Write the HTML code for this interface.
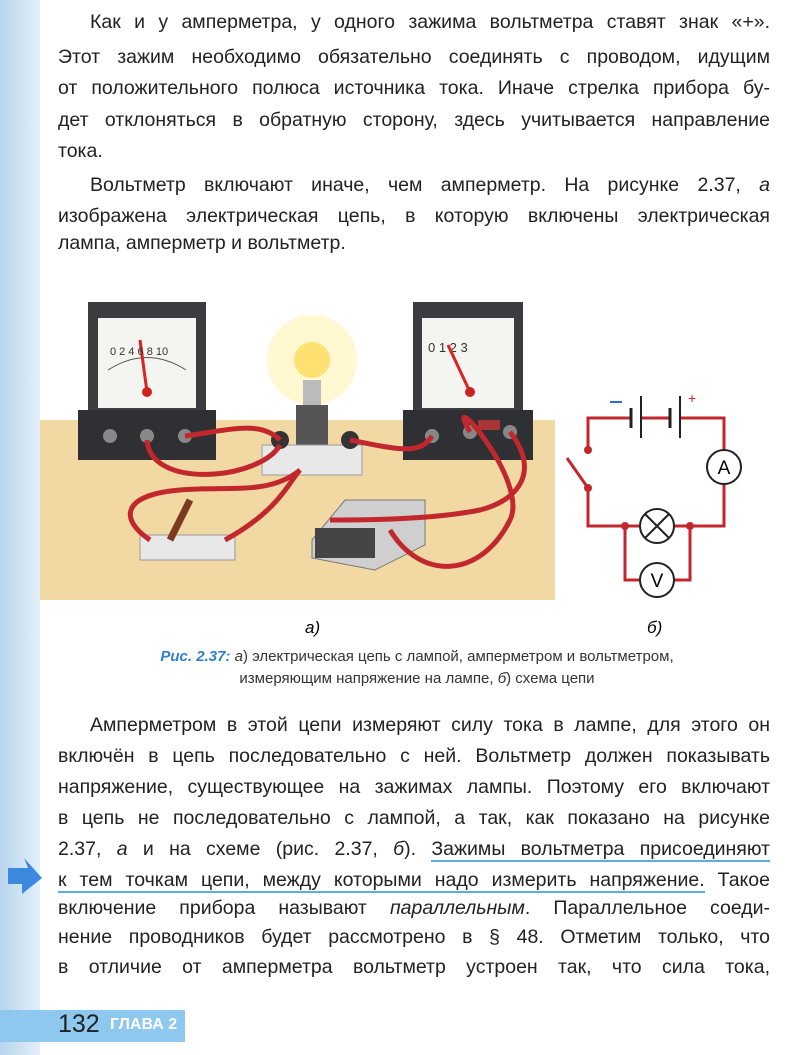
<!DOCTYPE html>
<html><head><meta charset="utf-8"><style>
body{margin:0;width:794px;height:1055px;position:relative;background:#fff;overflow:hidden;font-family:"Liberation Sans","DejaVu Sans",sans-serif;color:#222}
.strip{position:absolute;left:0;top:0;width:40px;height:1055px;background:linear-gradient(90deg,#b8d4ee,#e4effa)}
.l{position:absolute;left:58px;width:712px;font-size:19.5px;line-height:24px;text-align:justify;text-align-last:justify;white-space:nowrap}
.l.nj{text-align-last:left}
.in{left:90px;width:680px}
.u{border-bottom:2px solid #5aaee0}
.cap{position:absolute;font-size:15px;color:#333;width:794px;left:20px;text-align:center}
</style></head><body>
<div class="strip"></div>
<div class="l in" style="top:10px">Как и у амперметра, у одного зажима вольтметра ставят знак «+».</div>
<div class="l" style="top:45px">Этот зажим необходимо обязательно соединять с проводом, идущим</div>
<div class="l" style="top:76px">от положительного полюса источника тока. Иначе стрелка прибора бу-</div>
<div class="l" style="top:108px">дет отклоняться в обратную сторону, здесь учитывается направление</div>
<div class="l nj" style="top:139px">тока.</div>
<div class="l in" style="top:173px">Вольтметр включают иначе, чем амперметр. На рисунке 2.37, <i>а</i></div>
<div class="l" style="top:204px">изображена электрическая цепь, в которую включены электрическая</div>
<div class="l nj" style="top:231px">лампа, амперметр и вольтметр.</div>

<svg style="position:absolute;left:0;top:0" width="794" height="645">
<rect x="40" y="420" width="515" height="180" fill="#f2d9a4"/>
<rect x="88" y="302" width="118" height="115" fill="#3a3c3f"/>
<rect x="78" y="410" width="138" height="50" fill="#2e3033"/>
<rect x="98" y="318" width="98" height="90" fill="#f4f4f0"/>
<path d="M108 370 Q147 345 186 370" stroke="#555" fill="none"/>
<line x1="147" y1="392" x2="140" y2="340" stroke="#d22" stroke-width="3"/>
<circle cx="147" cy="392" r="5" fill="#c22"/>
<text x="110" y="355" font-size="11" fill="#333">0 2 4 6 8 10</text>
<circle cx="110" cy="436" r="7" fill="#888"/><circle cx="147" cy="436" r="7" fill="#888"/><circle cx="185" cy="436" r="7" fill="#888"/>
<rect x="413" y="302" width="110" height="115" fill="#3a3c3f"/>
<rect x="403" y="410" width="130" height="50" fill="#2e3033"/>
<rect x="422" y="318" width="92" height="90" fill="#f4f4f0"/>
<text x="428" y="352" font-size="13" fill="#333">0  1  2  3</text>
<line x1="470" y1="392" x2="448" y2="345" stroke="#d22" stroke-width="3"/>
<circle cx="470" cy="392" r="5" fill="#c22"/>
<circle cx="432" cy="436" r="7" fill="#888"/><circle cx="470" cy="432" r="7" fill="#888"/><circle cx="510" cy="432" r="7" fill="#888"/>
<rect x="478" y="420" width="22" height="10" fill="#a33"/>
<circle cx="312" cy="360" r="45" fill="#fff4b0" opacity="0.6"/>
<circle cx="312" cy="360" r="18" fill="#ffe070"/>
<rect x="303" y="380" width="18" height="25" fill="#bbb"/>
<rect x="296" y="405" width="32" height="40" fill="#555"/>
<rect x="262" y="445" width="100" height="30" fill="#e8e8e8" stroke="#999"/>
<circle cx="280" cy="440" r="9" fill="#333"/><circle cx="350" cy="440" r="9" fill="#333"/>
<rect x="140" y="535" width="95" height="25" fill="#e8e8e8" stroke="#999"/>
<line x1="170" y1="540" x2="190" y2="500" stroke="#7a3b20" stroke-width="7"/>
<polygon points="312,540 345,500 425,500 425,545 375,570 312,558" fill="#cfcfcf" stroke="#777"/>
<rect x="315" y="528" width="60" height="30" fill="#444"/>
<g stroke="#c1272d" stroke-width="5" fill="none">
<path d="M147 440 C150 490 260 480 280 445"/>
<path d="M185 436 C230 430 260 420 280 440"/>
<path d="M350 440 C400 450 420 455 432 436"/>
<path d="M470 432 C440 380 530 480 510 520 C480 580 420 580 390 530"/>
<path d="M510 432 C540 470 520 500 480 510 C430 520 360 520 330 520"/>
<path d="M225 540 C280 510 290 480 300 470"/>
<path d="M150 540 C120 520 120 495 180 490 C230 486 270 495 300 470"/>
</g>
<g stroke="#c1272d" stroke-width="3" fill="none">
<path d="M631 418 H588 V450"/><path d="M588 488 V526 H640"/><path d="M641 418 H670"/><path d="M680 418 H724 V450"/><path d="M724 484 V526 H674"/>
<path d="M625 526 V580 H640"/><path d="M690 526 V580 H674"/>
<line x1="567" y1="458" x2="588" y2="488"/>
</g>
<g fill="#c1272d"><circle cx="588" cy="450" r="4"/><circle cx="588" cy="488" r="4"/><circle cx="625" cy="526" r="4"/><circle cx="690" cy="526" r="4"/></g>
<g stroke="#222" stroke-width="2"><line x1="631" y1="408" x2="631" y2="428" stroke-width="3"/><line x1="641" y1="396" x2="641" y2="438"/><line x1="670" y1="408" x2="670" y2="428" stroke-width="3"/><line x1="680" y1="396" x2="680" y2="438"/></g>
<line x1="610" y1="402" x2="622" y2="402" stroke="#2a6fc9" stroke-width="2"/>
<text x="688" y="403" fill="#d22" font-size="14">+</text>
<g fill="#fff" stroke="#222" stroke-width="2"><circle cx="724" cy="467" r="17"/><circle cx="657" cy="526" r="17"/><circle cx="657" cy="580" r="17"/></g>
<path d="M645 514 L669 538 M669 514 L645 538" stroke="#222" stroke-width="2"/>
<text x="724" y="474" font-size="19" text-anchor="middle">A</text>
<text x="657" y="587" font-size="19" text-anchor="middle">V</text>
<text x="305" y="633" font-size="17" font-style="italic">а)</text>
<text x="647" y="633" font-size="17" font-style="italic">б)</text>
</svg>
<div class="cap" style="top:648px"><b style="color:#2f7fd0;font-style:italic">Рис. 2.37:</b> <i>а</i>) электрическая цепь с лампой, амперметром и вольтметром,</div>
<div class="cap" style="top:670px">измеряющим напряжение на лампе, <i>б</i>) схема цепи</div>

<div class="l in" style="top:713px">Амперметром в этой цепи измеряют силу тока в лампе, для этого он</div>
<div class="l" style="top:744px">включён в цепь последовательно с ней. Вольтметр должен показывать</div>
<div class="l" style="top:775px">напряжение, существующее на зажимах лампы. Поэтому его включают</div>
<div class="l" style="top:806px">в цепь не последовательно с лампой, а так, как показано на рисунке</div>
<div class="l" style="top:837px">2.37, <i>а</i> и на схеме (рис. 2.37, <i>б</i>). <span class="u">Зажимы вольтметра присоединяют</span></div>
<div class="l" style="top:868px"><span class="u">к тем точкам цепи, между которыми надо измерить напряжение.</span> Такое</div>
<div class="l" style="top:896px">включение прибора называют <i>параллельным</i>. Параллельное соеди-</div>
<div class="l" style="top:925px">нение проводников будет рассмотрено в § 48. Отметим только, что</div>
<div class="l" style="top:955px">в отличие от амперметра вольтметр устроен так, что сила тока,</div>
<svg style="position:absolute;left:0;top:850px" width="45" height="50"><polygon points="8,18 28,18 24,8 42,28 22,44 22,34 8,34" fill="#3c8ae0"/></svg>
<div style="position:absolute;left:0;top:1010px;width:185px;height:32px;background:#8ec8ee"></div>
<div style="position:absolute;left:58px;top:1010px;font-size:25px;color:#222">132</div>
<div style="position:absolute;left:110px;top:1016px;font-size:16px;font-weight:bold;color:#fff">ГЛАВА 2</div>
</body></html>
